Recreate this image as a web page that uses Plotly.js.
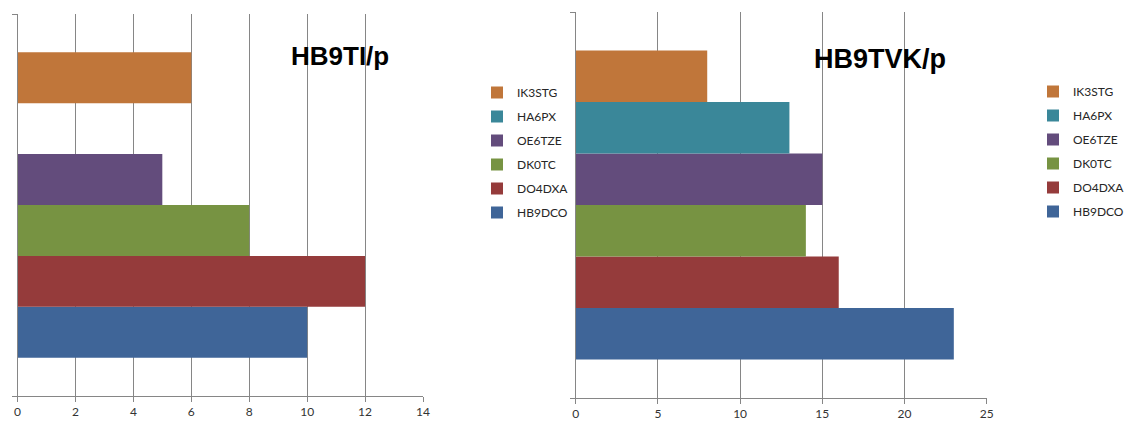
<!DOCTYPE html>
<html>
<head>
<meta charset="utf-8">
<script src="https://cdn.plot.ly/plotly-3.0.1.min.js"></script>
<style>html,body{margin:0;padding:0;background:#fff;}#chart{width:1131px;height:421px;}</style>
</head>
<body>
<div id="chart"></div>
<script>
// Data
const series = ["HB9DCO", "DO4DXA", "DK0TC", "OE6TZE", "HA6PX", "IK3STG"];
const colors = ["#3F6598", "#953B3B", "#779342", "#634C7C", "#3A8799", "#C0763A"];
const valuesHB9TI = [10, 12, 8, 5, null, 6];
const valuesHB9TVK = [23, 16, 14, 15, 13, 8];
const titleLeft = "HB9TI/p";
const titleRight = "HB9TVK/p";
const ticksLeft = [0, 2, 4, 6, 8, 10, 12, 14];
const ticksRight = [0, 5, 10, 15, 20, 25];

const W = 1131, H = 421;
const traces = [];
series.forEach((name, i) => {
  traces.push({
    type: "bar", orientation: "h", name: name,
    x: [valuesHB9TI[i]], y: ["c"],
    xaxis: "x", yaxis: "y",
    marker: {color: colors[i], line: {width: 0}},
    legend: "legend", legendgroup: "L" + name, legendrank: 100 - i,
    hoverinfo: "x+name"
  });
});
series.forEach((name, i) => {
  traces.push({
    type: "bar", orientation: "h", name: name,
    x: [valuesHB9TVK[i]], y: ["c"],
    xaxis: "x2", yaxis: "y2",
    marker: {color: colors[i], line: {width: 0}},
    legend: "legend2", legendgroup: "R" + name, legendrank: 100 - i,
    hoverinfo: "x+name"
  });
});

const axisCol = "#868686";
const tickFont = {family: "Lato, 'Open Sans', sans-serif", size: 12, color: "#333333"};
function xax(domain, range, ticks, anchor) {
  return {
    domain: domain, range: range, tickvals: ticks, ticktext: ticks.map(String),
    showgrid: true, gridcolor: axisCol, gridwidth: 1,
    showline: true, linecolor: axisCol, linewidth: 1,
    ticks: "outside", ticklen: 5, tickcolor: axisCol,
    zeroline: false, tickfont: tickFont, anchor: anchor, fixedrange: true
  };
}
function yax(domain, anchor) {
  return {
    domain: domain, type: "category", showticklabels: false,
    showgrid: false, showline: true, linecolor: axisCol, linewidth: 1,
    ticks: "outside", ticklen: 5, tickcolor: axisCol, tickson: "boundaries",
    zeroline: false, anchor: anchor, fixedrange: true
  };
}
const legendFont = {family: "Lato, 'Open Sans', sans-serif", size: 12, color: "#262626"};
const layout = {
  width: W, height: H,
  margin: {l: 0, r: 0, t: 0, b: 0, autoexpand: false},
  paper_bgcolor: "#ffffff", plot_bgcolor: "#ffffff",
  barmode: "group", bargap: 0.2, bargroupgap: 0,
  xaxis: xax([17.5 / W, 423 / W], [0, 14], ticksLeft, "y"),
  yaxis: yax([25 / H, 407 / H], "x"),
  xaxis2: xax([575.7 / W, 986.7 / W], [0, 25], ticksRight, "y2"),
  yaxis2: yax([23 / H, 409 / H], "x2"),
  legend: {x: 477 / W, y: 1 - 78 / H, xanchor: "left", yanchor: "top",
           traceorder: "grouped", tracegroupgap: 5, font: legendFont, bgcolor: "rgba(0,0,0,0)"},
  legend2: {x: 1033 / W, y: 1 - 77 / H, xanchor: "left", yanchor: "top",
           traceorder: "grouped", tracegroupgap: 5, font: legendFont, bgcolor: "rgba(0,0,0,0)"},
  annotations: [
    {text: "<b>" + titleLeft + "</b>", xref: "paper", yref: "paper", x: 340 / W, y: 1 - 56 / H,
     xanchor: "center", yanchor: "middle", showarrow: false,
     font: {family: "'Liberation Sans', Arial, sans-serif", size: 26, color: "#000"}},
    {text: "<b>" + titleRight + "</b>", xref: "paper", yref: "paper", x: 880 / W, y: 1 - 59 / H,
     xanchor: "center", yanchor: "middle", showarrow: false,
     font: {family: "'Liberation Sans', Arial, sans-serif", size: 27, color: "#000"}}
  ],
  showlegend: true
};
Plotly.newPlot("chart", traces, layout, {displayModeBar: false, staticPlot: true});
</script>
</body>
</html>
